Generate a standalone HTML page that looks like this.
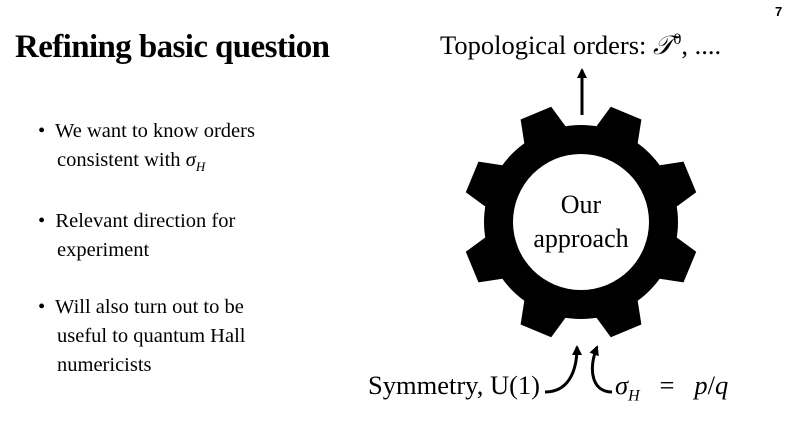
<!DOCTYPE html>
<html><head><meta charset="utf-8"><style>
body{margin:0;width:800px;height:448px;background:#fff;overflow:hidden;position:relative;font-family:"Liberation Serif",serif;color:#000}
.t{position:absolute;white-space:nowrap;z-index:2}
.b{font-size:20.5px;line-height:29px}
</style></head><body>
<svg width="800" height="448" style="position:absolute;left:0;top:0;z-index:1">
<defs><marker id="a" markerWidth="10" markerHeight="10" refX="8" refY="5" orient="auto" markerUnits="userSpaceOnUse"><path d="M0,0 L10,5 L0,10 Z"/></marker></defs>
<g id="g"></g>
<circle cx="581" cy="222" r="68" fill="#fff"/>
<line x1="582" y1="115" x2="582" y2="70" stroke="#000" stroke-width="3" marker-end="url(#a)"/>
<path d="M545,392 C568,392 577,372 577,347" fill="none" stroke="#000" stroke-width="3" marker-end="url(#a)"/>
<path d="M612,392 C592,392 588,370 597,347" fill="none" stroke="#000" stroke-width="3" marker-end="url(#a)"/>
</svg>
<div class="t" style="left:15px;top:29px;font-size:33px;font-weight:bold;letter-spacing:-0.6px">Refining basic question</div>
<div class="t" style="left:775px;top:4px;font-size:13px;font-weight:bold;font-family:'Liberation Sans',sans-serif">7</div>
<div class="t b" style="left:38px;top:117px">•&nbsp; We want to know orders<br><span style="padding-left:19px">consistent with <i>σ<sub style="font-size:13px">H</sub></i></span></div>
<div class="t b" style="left:38px;top:207px">•&nbsp; Relevant direction for<br><span style="padding-left:19px">experiment</span></div>
<div class="t b" style="left:38px;top:293px">•&nbsp; Will also turn out to be<br><span style="padding-left:19px">useful to quantum Hall</span><br><span style="padding-left:19px">numericists</span></div>
<div class="t" style="left:440px;top:30px;font-size:26.5px">Topological orders: <i>𝒯</i><sup style="font-size:16px">0</sup>, ....</div>
<div class="t" style="left:368px;top:370px;font-size:26.5px">Symmetry, U(1)</div>
<div class="t" style="left:615px;top:370px;font-size:26.5px"><i>σ<sub style="font-size:16px">H</sub></i>&nbsp;&nbsp; = &nbsp;&nbsp;<i>p</i>/<i>q</i></div>
<div class="t" style="left:511px;top:188px;width:140px;text-align:center;font-size:26px;line-height:34px">Our<br>approach</div>
<script>
var cx=581,cy=222,R=119,r=97,s='<circle cx="'+cx+'" cy="'+cy+'" r="'+r+'" fill="#000"/>';
function P(deg,rad){var a=(deg-90)*Math.PI/180;return (cx+rad*Math.cos(a)).toFixed(1)+","+(cy+rad*Math.sin(a)).toFixed(1);}
for(var k=0;k<8;k++){var c=22.5+45*k;
s+='<polygon fill="#000" points="'+[P(c-14,r-8),P(c-13.3,r),P(c-8,R),P(c+8,R),P(c+13.3,r),P(c+14,r-8)].join(" ")+'"/>';}
document.getElementById("g").innerHTML=s;
</script>
</body></html>
